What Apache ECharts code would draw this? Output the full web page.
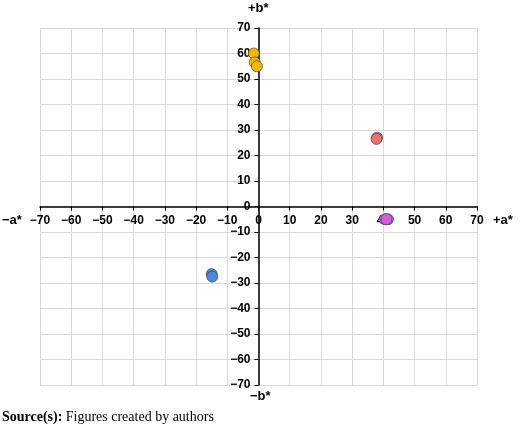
<!DOCTYPE html><html><head><meta charset="utf-8"><script src="https://cdn.jsdelivr.net/npm/echarts@6/dist/echarts.min.js"></script>
<style>body{margin:0}#c{width:520px;height:429px}</style></head><body><div id="c"></div><script>
const yellow=[[-1.5,60],[-1.2,56.5],[-0.5,55]];
const red=[[38,27],[37.8,26.5]];
const magenta=[[40.5,-5],[41.5,-5],[41,-5]];
const blue=[[-15,-26.5],[-14.8,-27.5]];
const c=echarts.init(document.getElementById('c'));
const ax={min:-70,max:70,interval:10,axisLine:{onZero:false,lineStyle:{color:'#000',width:1.5}},axisTick:{show:true,length:4,lineStyle:{color:'#000'}},
splitLine:{show:true,lineStyle:{color:'#d9d9d9'}},axisLabel:{color:'#000',fontWeight:'bold',fontFamily:'Liberation Sans',fontSize:12,formatter:v=>v<0?'\u2212'+(-v):v}};
function s(d,col){return {type:'scatter',data:d,symbolSize:11,itemStyle:{color:col,borderColor:'rgba(60,60,60,0.8)',borderWidth:0.8,opacity:1}};}
c.setOption({animation:false,grid:{left:40,right:43,top:28,bottom:44},
xAxis:Object.assign({},ax,{type:'value',position:'bottom',offset:-178.5}),
yAxis:Object.assign({},ax,{type:'value',position:'left',offset:-218.5}),
series:[s(yellow,'#f5b800'),s(red,'#ee6f73'),s(magenta,'#d55de0'),s(blue,'#4a8ad8')],
graphic:[
{type:'text',left:248,top:2,style:{text:'+b*',font:'bold 13px Liberation Sans',fill:'#000'}},
{type:'text',left:250,top:390,style:{text:'\u2212b*',font:'bold 13px Liberation Sans',fill:'#000'}},
{type:'text',left:2,top:214,style:{text:'\u2212a*',font:'bold 13px Liberation Sans',fill:'#000'}},
{type:'text',left:493,top:214,style:{text:'+a*',font:'bold 13px Liberation Sans',fill:'#000'}},
{type:'text',left:2,top:410,style:{rich:{b:{font:'bold 14px Liberation Serif',fill:'#000'},n:{font:'14px Liberation Serif',fill:'#000'}},text:'{b|Source(s):} {n|Figures created by authors}'}}
]});
</script></body></html>
